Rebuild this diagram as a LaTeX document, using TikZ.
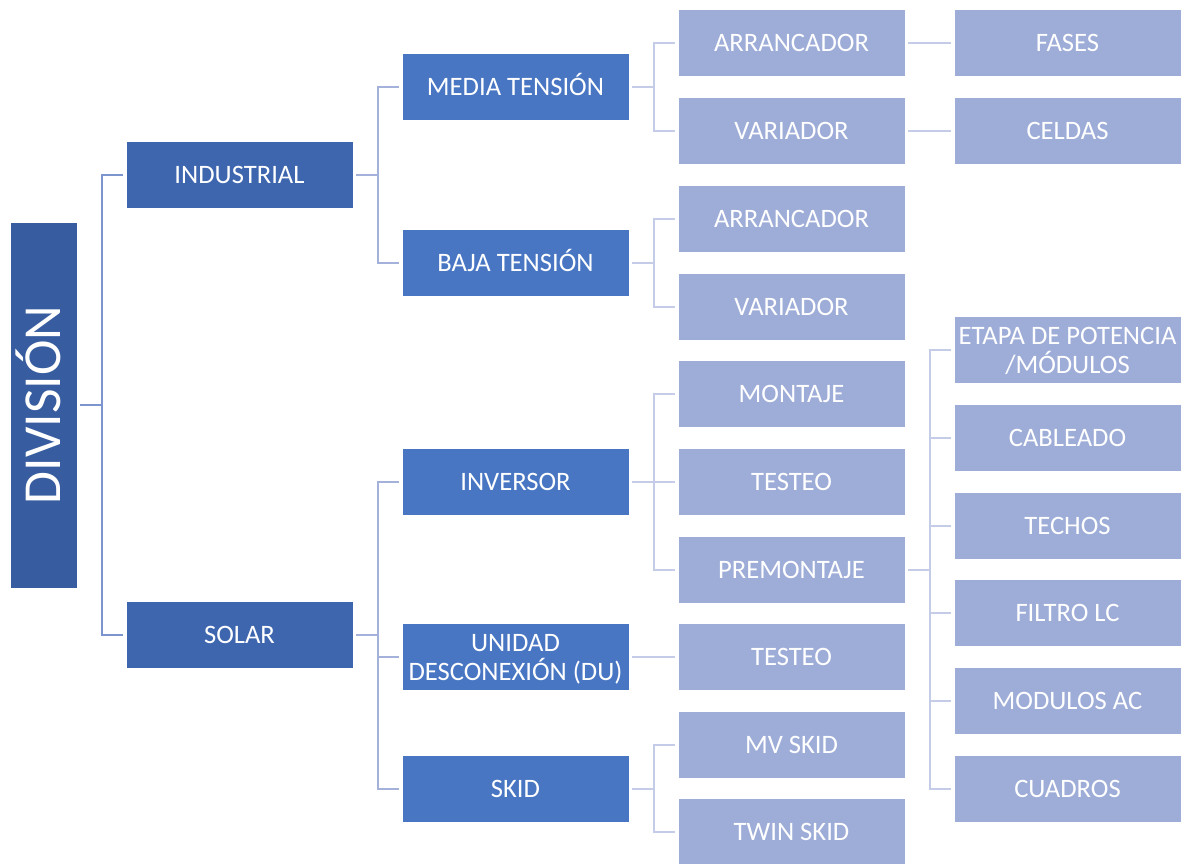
\documentclass[tikz,border=0pt]{standalone}
\usepackage{fontspec}
\setmainfont{Carlito}
\definecolor{divcol}{HTML}{375C9F}
\definecolor{onecol}{HTML}{3E66AF}
\definecolor{twocol}{HTML}{4876C3}
\definecolor{leafcol}{HTML}{9EADD8}
\definecolor{linea}{HTML}{7D95CF}
\definecolor{lineb}{HTML}{A3B1DB}
\definecolor{linec}{HTML}{C4CCE7}
\begin{document}
\begin{tikzpicture}[x=1pt,y=-1pt,
  box/.style={rectangle, minimum width=227pt, minimum height=67pt, inner sep=0pt,
    text=white, font=\fontsize{26.6}{29}\selectfont, text height=17.1pt,
    text depth=0pt, align=center, draw=white, line width=0.8pt},
  twoline/.style={text height=46.1pt, text depth=0pt},
  lvlone/.style={box, fill=onecol},
  lvltwo/.style={box, fill=twocol},
  leaf/.style={box, fill=leafcol},
  rootbox/.style={rectangle, minimum width=67pt, minimum height=366pt, inner sep=0pt,
    text=white, font=\fontsize{53.5}{60}\selectfont, fill=divcol, draw=white, line width=0.8pt},
  conn/.style={line width=2.6pt, shorten <=3pt, shorten >=2.5pt},
  conna/.style={conn, draw=linea},
  connb/.style={conn, draw=lineb},
  connc/.style={conn, draw=linec}
]
\useasboundingbox (0,0) rectangle (1187,863);

% root
\node[rootbox] (div) at (43.5,405) {\rotatebox{90}{\raisebox{0pt}[34.5pt][0pt]{DIVISIÓN}}};

% first level
\node[lvlone] (ind) at (239.5,175) {INDUSTRIAL};
\node[lvlone] (sol) at (239.5,635) {SOLAR};

% second level
\node[lvltwo] (mt)  at (515.5,87)  {MEDIA TENSIÓN};
\node[lvltwo] (bt)  at (515.5,263) {BAJA TENSIÓN};
\node[lvltwo] (inv) at (515.5,482) {INVERSOR};
\node[lvltwo, twoline] (du) at (515.5,657) {UNIDAD\\DESCONEXIÓN (DU)};
\node[lvltwo] (skid) at (515.5,789) {SKID};

% third level
\node[leaf] (mtarr) at (791.5,43)  {ARRANCADOR};
\node[leaf] (mtvar) at (791.5,131) {VARIADOR};
\node[leaf] (btarr) at (791.5,219) {ARRANCADOR};
\node[leaf] (btvar) at (791.5,307) {VARIADOR};
\node[leaf] (mont)  at (791.5,394) {MONTAJE};
\node[leaf] (test)  at (791.5,482) {TESTEO};
\node[leaf] (prem)  at (791.5,570) {PREMONTAJE};
\node[leaf] (dutest) at (791.5,657) {TESTEO};
\node[leaf] (mvskid) at (791.5,745) {MV SKID};
\node[leaf] (twin)  at (791.5,832) {TWIN SKID};

% fourth level
\node[leaf] (fases)  at (1067.5,43)  {FASES};
\node[leaf] (celdas) at (1067.5,131) {CELDAS};
\node[leaf, twoline] (etapa) at (1067.5,350) {ETAPA DE POTENCIA\\/MÓDULOS};
\node[leaf] (cab)    at (1067.5,438) {CABLEADO};
\node[leaf] (techos) at (1067.5,526) {TECHOS};
\node[leaf] (filtro) at (1067.5,613) {FILTRO LC};
\node[leaf] (modac)  at (1067.5,701) {MODULOS AC};
\node[leaf] (cuad)   at (1067.5,789) {CUADROS};

% connectors
\foreach \c in {ind,sol}
  \draw[conna] (div.east) -- ++(24.5,0) |- (\c.west);
\foreach \c in {mt,bt}
  \draw[connb] (ind.east) -- ++(24.5,0) |- (\c.west);
\foreach \c in {inv,du,skid}
  \draw[connb] (sol.east) -- ++(24.5,0) |- (\c.west);
\foreach \c in {mtarr,mtvar}
  \draw[connc] (mt.east) -- ++(24.5,0) |- (\c.west);
\foreach \c in {btarr,btvar}
  \draw[connc] (bt.east) -- ++(24.5,0) |- (\c.west);
\foreach \c in {mont,test,prem}
  \draw[connc] (inv.east) -- ++(24.5,0) |- (\c.west);
\draw[connc] (du.east |- dutest.west) -- (dutest.west);
\foreach \c in {mvskid,twin}
  \draw[connc] (skid.east) -- ++(24.5,0) |- (\c.west);
\draw[connc] (mtarr.east) -- (fases.west);
\draw[connc] (mtvar.east) -- (celdas.west);
\foreach \c in {etapa,cab,techos,filtro,modac,cuad}
  \draw[connc] (prem.east) -- ++(24.5,0) |- (\c.west);
\end{tikzpicture}
\end{document}
